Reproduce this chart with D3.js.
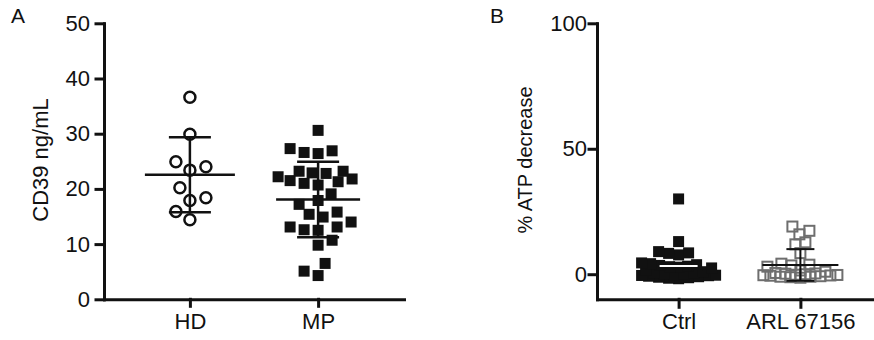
<!DOCTYPE html>
<html>
<head>
<meta charset="utf-8">
<script src="https://cdn.jsdelivr.net/npm/d3@7"></script>
<style>
  body { margin: 0; background: #fff; }
  svg text { font-family: "Liberation Sans", Arial, sans-serif; fill: #111; }
</style>
</head>
<body>
<svg id="chart" width="874" height="340"></svg>
<script>
// panel A: CD39 ng/mL
const groupsA = ['HD', 'MP'];
const hdValues = [36.6, 29.9, 24.9, 24.0, 23.4, 20.2, 18.4, 17.9, 15.9, 14.4];
const mpValues = [30.6, 27.3, 26.6, 26.4, 26.9, 22.8, 23.2, 23.2, 22.9, 22.2, 21.8,
  21.5, 21.3, 21.0, 20.7, 19.1, 17.9, 17.2, 15.4, 15.8, 14.9, 14.0, 12.6, 13.1,
  13.1, 12.5, 10.7, 9.8, 6.5, 4.3, 5.1];
const ticksA = [0, 10, 20, 30, 40, 50];

// panel B: % ATP decrease
const groupsB = ['Ctrl', 'ARL 67156'];
const ctrlValues = [30.0, 13.0, 9.0, 8.5, 8.3, 7.7, 4.5, 4.2, 3.8, 3.5, 3.2, 3.0,
  2.8, 2.5, 1.5, 1.0, 0.6, 0.3, 0.0, -0.2, -0.4, -0.6, -0.8, -1.0, -1.2, -1.4,
  -1.6, -1.8, -0.5, 0.2];
const arlValues = [19.0, 17.3, 15.9, 12.7, 11.9, 8.4, 4.2, 3.8, 3.5, 3.0, 1.5,
  1.0, 0.5, 0.2, 0.0, -0.2, -0.4, -0.6, -0.8, -1.0, -1.2, -1.4, -0.3, 0.3, -1.0, -0.5];
const ticksB = [0, 50, 100];

const svg = d3.select('#chart');

// beeswarm: each point goes as close to the centre as it can without overlap;
// when the column is full (maxHalf) it takes the least crowded spot
function swarm(values, y, D, maxHalf) {
  const pts = values.map((v) => ({ v, y: y(v), x: 0 })).sort((a, b) => a.v - b.v);
  const placed = [];
  let flip = 1;
  pts.forEach((p) => {
    let best = 0, bestDist = -1;
    for (let k = 0; k <= 2 * maxHalf; k++) {
      const c = (k % 2 ? 1 : -1) * flip * Math.ceil(k / 2);
      let md = Infinity;
      placed.forEach((q) => {
        const d = Math.hypot(q.x - c, q.y - p.y);
        if (d < md) md = d;
      });
      if (md >= D) { best = c; bestDist = md; break; }
      if (md > bestDist) { best = c; bestDist = md; }
    }
    p.x = best;
    flip = -flip;
    placed.push(p);
  });
  return pts;
}

function errorBar(g, cx, values, y, opts) {
  const m = d3.mean(values);
  const sd = d3.deviation(values);
  const bar = g.append('g')
    .attr('stroke', opts.color)
    .attr('stroke-width', opts.width);
  bar.append('line')
    .attr('x1', cx - opts.meanHalf).attr('x2', cx + opts.meanHalf)
    .attr('y1', y(m)).attr('y2', y(m));
  if (opts.meanOnly) return;
  bar.append('line')
    .attr('x1', cx).attr('x2', cx)
    .attr('y1', y(m + sd)).attr('y2', y(m - sd));
  [m + sd, m - sd].forEach((v) => {
    bar.append('line')
      .attr('x1', cx - opts.capHalf).attr('x2', cx + opts.capHalf)
      .attr('y1', y(v)).attr('y2', y(v));
  });
}

function styleAxis(ax, size) {
  ax.selectAll('path, line')
    .attr('stroke', '#111')
    .attr('stroke-width', 3)
    .attr('stroke-linecap', 'square');
  ax.selectAll('text')
    .style('font-size', size + 'px')
    .attr('fill', '#111');
}

// ---------- panel A ----------
const xA = d3.scalePoint().domain(groupsA).range([104, 404]).padding(0.67);
const yA = d3.scaleLinear().domain([0, 50]).range([299.3, 23.3]);

const gA = svg.append('g');

const hdPts = swarm(hdValues, yA, 16, 60);
gA.selectAll('circle.hd')
  .data(hdPts)
  .join('circle')
  .attr('class', 'hd')
  .attr('cx', (d) => xA('HD') + d.x)
  .attr('cy', (d) => d.y)
  .attr('r', 5.5)
  .attr('fill', '#fff')
  .attr('stroke', '#111')
  .attr('stroke-width', 2.5);

const mpPts = swarm(mpValues, yA, 14, 40);
gA.selectAll('rect.mp')
  .data(mpPts)
  .join('rect')
  .attr('class', 'mp')
  .attr('x', (d) => xA('MP') + d.x - 5.5)
  .attr('y', (d) => d.y - 5.5)
  .attr('width', 11)
  .attr('height', 11)
  .attr('fill', '#111');

errorBar(gA, xA('HD'), hdValues, yA, { color: '#111', width: 2.5, meanHalf: 45, capHalf: 21 });
errorBar(gA, xA('MP'), mpValues, yA, { color: '#111', width: 2.5, meanHalf: 42, capHalf: 21 });

const axA = gA.append('g')
  .attr('transform', 'translate(104,0)')
  .call(d3.axisLeft(yA).tickValues(ticksA).tickSize(8).tickPadding(6).tickSizeOuter(0));
styleAxis(axA, 22);
const axAx = gA.append('g')
  .attr('transform', 'translate(0,299.3)')
  .call(d3.axisBottom(xA).tickSize(7).tickPadding(7).tickSizeOuter(0));
styleAxis(axAx, 22);

gA.append('text')
  .attr('transform', 'translate(48,160) rotate(-90)')
  .attr('text-anchor', 'middle')
  .style('font-size', '22px')
  .text('CD39 ng/mL');

svg.append('text')
  .attr('x', 11).attr('y', 23)
  .style('font-size', '21px')
  .text('A');

// ---------- panel B ----------
const xB = d3.scalePoint().domain(groupsB).range([597, 882]).padding(0.67);
const yB = d3.scaleLinear().domain([-10, 100]).range([299.3, 23.3]);

const gB = svg.append('g');

const ctrlPts = swarm(ctrlValues, yB, 10, 37);
gB.selectAll('rect.ctrl')
  .data(ctrlPts)
  .join('rect')
  .attr('class', 'ctrl')
  .attr('x', (d) => xB('Ctrl') + d.x - 5.5)
  .attr('y', (d) => d.y - 5.5)
  .attr('width', 11)
  .attr('height', 11)
  .attr('fill', '#111');

const arlPts = swarm(arlValues, yB, 10, 37);
gB.selectAll('rect.arl')
  .data(arlPts)
  .join('rect')
  .attr('class', 'arl')
  .attr('x', (d) => xB('ARL 67156') + d.x - 5)
  .attr('y', (d) => d.y - 5)
  .attr('width', 10)
  .attr('height', 10)
  .attr('fill', 'none')
  .attr('stroke', '#6e6e6e')
  .attr('stroke-width', 2);

errorBar(gB, xB('Ctrl'), ctrlValues, yB, { color: '#fff', width: 2, meanHalf: 19, capHalf: 14, meanOnly: true });
errorBar(gB, xB('ARL 67156'), arlValues, yB, { color: '#111', width: 2, meanHalf: 38, capHalf: 14 });

const axB = gB.append('g')
  .attr('transform', 'translate(597,0)')
  .call(d3.axisLeft(yB).tickValues(ticksB).tickSize(8).tickPadding(2).tickSizeOuter(0));
styleAxis(axB, 22);
const axBx = gB.append('g')
  .attr('transform', 'translate(0,299.3)')
  .call(d3.axisBottom(xB).tickSize(8).tickPadding(6).tickSizeOuter(0));
styleAxis(axBx, 22);

gB.append('text')
  .attr('transform', 'translate(532,160) rotate(-90)')
  .attr('text-anchor', 'middle')
  .style('font-size', '20px')
  .text('% ATP decrease');

svg.append('text')
  .attr('x', 490).attr('y', 23)
  .style('font-size', '21px')
  .text('B');
</script>
</body>
</html>
